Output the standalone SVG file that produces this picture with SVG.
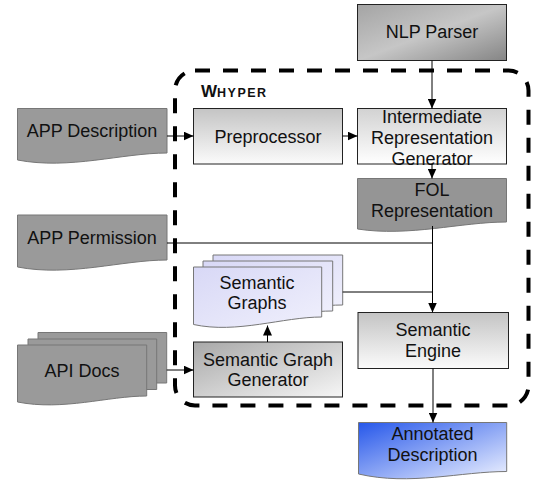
<svg xmlns="http://www.w3.org/2000/svg" width="544" height="491" viewBox="0 0 544 491">
<defs>
<linearGradient id="gNlp" x1="0" y1="0" x2="1" y2="1"><stop offset="0" stop-color="#a4a4a4"/><stop offset="0.5" stop-color="#c6c6c6"/><stop offset="1" stop-color="#858585"/></linearGradient>
<linearGradient id="gProc" x1="0" y1="0" x2="0" y2="1"><stop offset="0" stop-color="#c4c4c4"/><stop offset="1" stop-color="#fbfbfb"/></linearGradient>
<linearGradient id="gIrg" x1="0" y1="0" x2="0" y2="1"><stop offset="0" stop-color="#d2d2d2"/><stop offset="1" stop-color="#ffffff"/></linearGradient>
<linearGradient id="gSgg" x1="0" y1="0" x2="1" y2="1"><stop offset="0" stop-color="#a8a8a8"/><stop offset="1" stop-color="#f6f6f6"/></linearGradient>
<linearGradient id="gSg" x1="0" y1="0" x2="1" y2="1"><stop offset="0" stop-color="#d8d8f6"/><stop offset="1" stop-color="#f0f0fc"/></linearGradient>
<linearGradient id="gAnn" x1="0" y1="0" x2="1" y2="1"><stop offset="0" stop-color="#2657ea"/><stop offset="1" stop-color="#eef2ff"/></linearGradient>
<marker id="ah" markerUnits="userSpaceOnUse" markerWidth="10" markerHeight="9" refX="10" refY="4.5" orient="auto"><path d="M0,0 L10,4.5 L0,9 Z" fill="#000"/></marker>
</defs>
<style>
text{font-family:"Liberation Sans",Arial,sans-serif;font-size:18px;fill:#111;text-anchor:middle;dominant-baseline:central}
.box{stroke:#222;stroke-width:1}
.doc{stroke:#777;stroke-width:1}
.dark{fill:#9a9a9a}
.conn{fill:none;stroke:#000;stroke-width:1}
</style>

<g id="whyper">
<rect x="175" y="70.5" width="353.5" height="335" rx="20" ry="20" fill="none" stroke="#000" stroke-width="4" stroke-dasharray="15 13"/>
<text x="201" y="97" style="text-anchor:start;dominant-baseline:auto;font-weight:bold;font-size:17px">W<tspan style="font-size:12.5px" letter-spacing="1.5">HYPER</tspan></text>
</g>

<g id="nlp-parser">
<rect class="box" x="357.5" y="4.5" width="149" height="56" fill="url(#gNlp)"/>
<text x="432" y="32">NLP Parser</text>
</g>

<g id="app-description">
<path class="doc dark" d="M17.5,108.5 H167 V153 C122,153 69.5,170 17.5,160 Z"/>
<text x="92" y="131">APP Description</text>
</g>

<g id="preprocessor">
<rect class="box" x="193.5" y="108.5" width="149" height="55.5" fill="url(#gProc)"/>
<text x="268" y="137">Preprocessor</text>
</g>

<g id="irg">
<rect class="box" x="357.5" y="108.5" width="149" height="55.5" fill="url(#gIrg)"/>
<text x="432" y="117">Intermediate</text>
<text x="432" y="138">Representation</text>
<text x="432" y="159">Generator</text>
</g>

<g id="fol">
<path class="doc" fill="#959595" d="M357.5,178.5 H506.5 V222 C461,222 409,237 357.5,229 Z"/>
<text x="432" y="190">FOL</text>
<text x="432" y="211">Representation</text>
</g>

<g id="app-permission">
<path class="doc dark" d="M17.5,215 H167 V260 C122,260 69.5,277 17.5,267 Z"/>
<text x="92" y="238">APP Permission</text>
</g>

<g id="semantic-graphs">
<path class="doc" fill="url(#gSg)" d="M213,255 H342.7 V305 C304,305 259,318 213,312 Z"/>
<path class="doc" fill="url(#gSg)" d="M203,261 H332.7 V311 C294,311 249,324 203,318 Z"/>
<path class="doc" fill="url(#gSg)" d="M193.5,267 H321.7 V317 C283,317 237,334 193.5,324.5 Z"/>
<text x="257" y="283">Semantic</text>
<text x="257" y="303">Graphs</text>
</g>

<g id="semantic-graph-generator">
<rect class="box" x="193.5" y="342" width="149" height="55" fill="url(#gSgg)"/>
<text x="268" y="360">Semantic Graph</text>
<text x="268" y="380">Generator</text>
</g>

<g id="api-docs">
<path class="doc dark" d="M38,332.5 H166.7 V383 L38,383 Z"/>
<path class="doc dark" d="M28,339 H156.7 V389.5 L28,389.5 Z"/>
<path class="doc dark" d="M17.5,345 H146.7 V396 C108,396 63,411 17.5,402 Z"/>
<text x="82" y="371">API Docs</text>
</g>

<g id="semantic-engine">
<rect class="box" x="358" y="312.5" width="150.5" height="56" fill="url(#gProc)"/>
<text x="433" y="330">Semantic</text>
<text x="433" y="351">Engine</text>
</g>

<g id="annotated-description">
<path class="doc" fill="url(#gAnn)" d="M358.5,422.5 H506.7 V471.5 C461,471.5 410,486 358.5,474 Z"/>
<text x="432.5" y="434">Annotated</text>
<text x="432.5" y="455">Description</text>
</g>

<g id="connectors">
<line class="conn" x1="432" y1="60.5" x2="432" y2="108.5" marker-end="url(#ah)"/>
<line class="conn" x1="167" y1="136" x2="193.5" y2="136" marker-end="url(#ah)"/>
<line class="conn" x1="342.5" y1="136" x2="357.5" y2="136" marker-end="url(#ah)"/>
<line class="conn" x1="432" y1="164" x2="432" y2="178.5" marker-end="url(#ah)"/>
<line class="conn" x1="432.5" y1="226" x2="432.5" y2="312.5" marker-end="url(#ah)"/>
<polyline class="conn" points="167,243 432.5,243"/>
<polyline class="conn" points="342.7,292 432.5,292"/>
<line class="conn" x1="166.7" y1="370" x2="193.5" y2="370" marker-end="url(#ah)"/>
<line class="conn" x1="267.5" y1="342" x2="267.5" y2="325.5" marker-end="url(#ah)"/>
<line class="conn" x1="433" y1="368.5" x2="433" y2="422.5" marker-end="url(#ah)"/>
</g>
</svg>
